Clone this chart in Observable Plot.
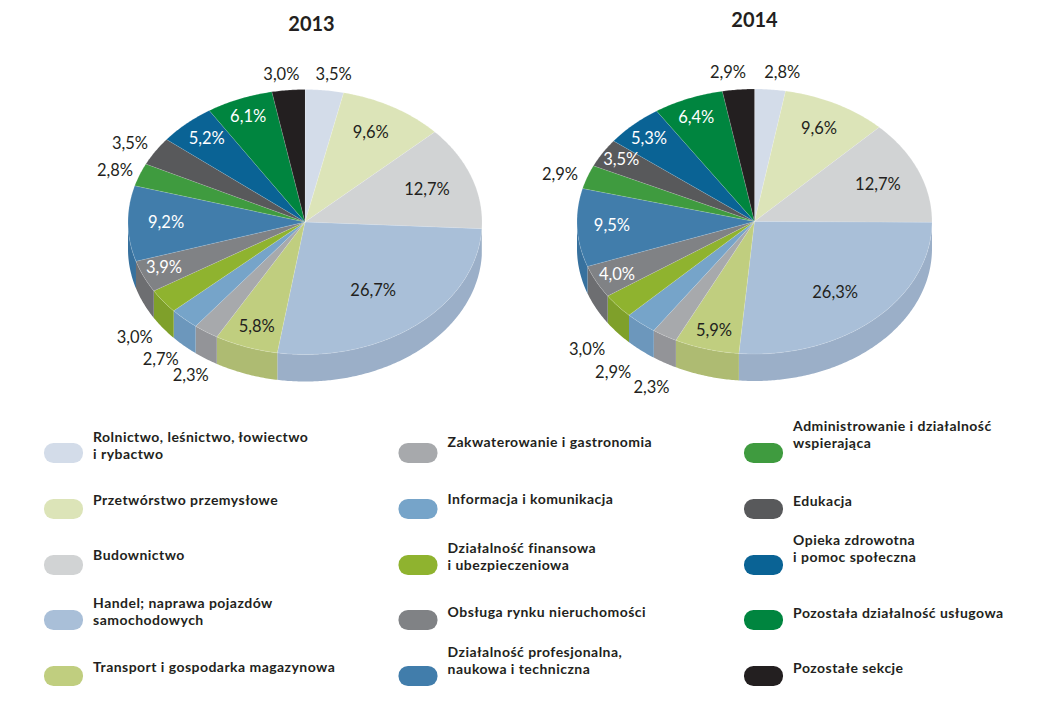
<!DOCTYPE html>
<html lang="pl">
<head>
<meta charset="utf-8">
<script src="https://cdn.jsdelivr.net/npm/d3@7"></script>
<script src="https://cdn.jsdelivr.net/npm/@observablehq/plot@0.6"></script>
<style>
  html, body { margin: 0; padding: 0; background: #fff; }
  svg { display: block; }
  .legend-text text { letter-spacing: 0.46px; }
</style>
</head>
<body>
<div id="chart"></div>
<script>
// --- Data ---
const categories = [
  "Rolnictwo, leśnictwo, łowiectwo\ni rybactwo",
  "Przetwórstwo przemysłowe",
  "Budownictwo",
  "Handel; naprawa pojazdów\nsamochodowych",
  "Transport i gospodarka magazynowa",
  "Zakwaterowanie i gastronomia",
  "Informacja i komunikacja",
  "Działalność finansowa\ni ubezpieczeniowa",
  "Obsługa rynku nieruchomości",
  "Działalność profesjonalna,\nnaukowa i techniczna",
  "Administrowanie i działalność\nwspierająca",
  "Edukacja",
  "Opieka zdrowotna\ni pomoc społeczna",
  "Pozostała działalność usługowa",
  "Pozostałe sekcje"
];
const values2013 = [3.5, 9.6, 12.7, 26.7, 5.8, 2.3, 2.7, 3.0, 3.9, 9.2, 2.8, 3.5, 5.2, 6.1, 3.0];
const values2014 = [2.8, 9.6, 12.7, 26.3, 5.9, 2.3, 2.9, 3.0, 4.0, 9.5, 2.9, 3.5, 5.3, 6.4, 2.9];

// --- Styles ---
const topColors = ["#d3dce9", "#dce4b8", "#d1d3d4", "#a9bfd8", "#c0ce7f", "#a7a9ac", "#76a4c9", "#8fb32f",
                   "#808285", "#417dab", "#3f9b3f", "#58595b", "#0a6395", "#00853f", "#231f20"];
const sideColors = ["#bcc5d2", "#c6cda5", "#d6d8a8", "#9bafc8", "#aebb72", "#939498", "#6c97bc", "#7fa02a",
                    "#6d6e71", "#37719e", "#388b38", "#4e4f51", "#095885", "#007739", "#1f1b1c"];

// --- Layout of the label anchors: position along the rim (% of the circle), distance from centre (rim = 1) ---
const labelAt2013 = [2.3, 8.0, 19.6, 39.8, 55.3, 58.1, 60.6, 63.3, 68.5, 74.9, 80.5, 83.6, 88.5, 93.9, 98.1];
const labelR2013  = [1.125, .771, .731, .644, .834, 1.325, 1.319, 1.297, .868, .785, 1.141, 1.153, .839, .859, 1.121];
const labelAt2014 = [2.2, 7.6, 18.9, 38.8, 54.3, 56.9, 59.7, 62.3, 67.4, 74.4, 80.0, 83.8, 87.9, 93.7, 97.9];
const labelR2014  = [1.136, .79, .75, .702, .854, 1.382, 1.391, 1.351, .872, .804, 1.152, .882, .863, .851, 1.135];
const whiteLabels2013 = [8, 9, 12, 13];
const whiteLabels2014 = [8, 9, 11, 12, 13];

const legendColumnX = [44, 398.5, 744];
const legendRowY = [453, 509, 565, 620, 676];
const legendTextDy = [
  [-17, -10, -11, -18, -10],
  [-12, -11, -18, -9, -25],
  [-28, -9, -26, -8, -9]
];
const legendFontSize = 14;
const lineHeight = 16.9;

const pies = [
  {year: "2013", values: values2013, at: labelAt2013, r: labelR2013, white: whiteLabels2013, cx: 304.5, cy: 221.5, rx: 177, ry: 132.5, depth: 27, titleX: 311, titleY: 24},
  {year: "2014", values: values2014, at: labelAt2014, r: labelR2014, white: whiteLabels2014, cx: 754, cy: 221, rx: 177.5, ry: 132.5, depth: 27, titleX: 754, titleY: 20}
];

// --- Geometry derived from the values ---
const toRad = pct => pct / 100 * 2 * Math.PI;
const rim = (p, a, r = 1) => [p.cx + r * p.rx * Math.sin(a), p.cy - r * p.ry * Math.cos(a)];

const topPts = [], sidePts = [], labels = [];
for (const p of pies) {
  const total = d3.sum(p.values);
  let cum = 0;
  p.values.forEach((v, i) => {
    const a0 = toRad(cum / total * 100), a1 = toRad((cum + v) / total * 100);
    cum += v;
    const id = p.year + "-" + i;
    const n = Math.max(2, Math.ceil((a1 - a0) / 0.01));
    const arc = d3.range(n + 1).map(k => a0 + (a1 - a0) * k / n);
    const poly = [[p.cx, p.cy], ...arc.map(a => rim(p, a))];
    poly.forEach(([x, y]) => topPts.push({x, y, id, fill: topColors[i]}));
    // visible outer wall: the front half of the rim
    const s0 = Math.max(a0, Math.PI / 2), s1 = Math.min(a1, 3 * Math.PI / 2);
    if (s1 > s0) {
      const m = Math.max(2, Math.ceil((s1 - s0) / 0.01));
      const wall = d3.range(m + 1).map(k => rim(p, s0 + (s1 - s0) * k / m));
      [...wall, ...wall.slice().reverse().map(([x, y]) => [x, y + p.depth])]
        .forEach(([x, y]) => sidePts.push({x, y, id, fill: sideColors[i]}));
    }
    const [lx, ly] = rim(p, toRad(p.at[i]), p.r[i]);
    labels.push({x: lx, y: ly, text: v.toFixed(1).replace(".", ",") + "%", fill: p.white.includes(i) ? "#ffffff" : "#231f20"});
  });
}

const swatches = [], legendEntries = [];
categories.forEach((c, i) => {
  const col = Math.floor(i / 5), row = i % 5;
  const x = legendColumnX[col], y = legendRowY[row];
  swatches.push({x1: x, x2: x + 39, y1: y - 10, y2: y + 10, fill: topColors[i]});
  const lines = c.split("\n").length;
  legendEntries.push({x: x + 48.6, y: y + legendTextDy[col][row] + (lines - 1) * lineHeight / 2, text: c});
});

const bodyFont = "Lato, 'Open Sans', sans-serif";

const chart = Plot.plot({
  width: 1038,
  height: 709,
  margin: 0,
  x: {domain: [0, 1038], range: [0, 1038], axis: null},
  y: {domain: [0, 709], range: [0, 709], axis: null},
  color: {type: "identity"},
  marks: [
    Plot.line(sidePts, {x: "x", y: "y", z: "id", fill: "fill", stroke: "none", curve: "linear-closed"}),
    Plot.line(topPts, {x: "x", y: "y", z: "id", fill: "fill", stroke: "#ffffff", strokeOpacity: 0.25, strokeWidth: 0.6, curve: "linear-closed"}),
    Plot.text(labels, {x: "x", y: "y", text: "text", fill: "fill", fontFamily: bodyFont, fontSize: 16.5}),
    Plot.text(pies, {x: "titleX", y: "titleY", text: "year", fontFamily: bodyFont, fontSize: 20, fontWeight: 700, fill: "#231f20"}),
    Plot.rect(swatches, {x1: "x1", x2: "x2", y1: "y1", y2: "y2", fill: "fill", rx: 9.5}),
    Plot.text(legendEntries, {x: "x", y: "y", text: "text", textAnchor: "start", className: "legend-text", lineHeight: lineHeight / legendFontSize, fontFamily: bodyFont, fontSize: legendFontSize, fontWeight: 700, fill: "#231f20"})
  ]
});
document.getElementById("chart").append(chart);
</script>
</body>
</html>
